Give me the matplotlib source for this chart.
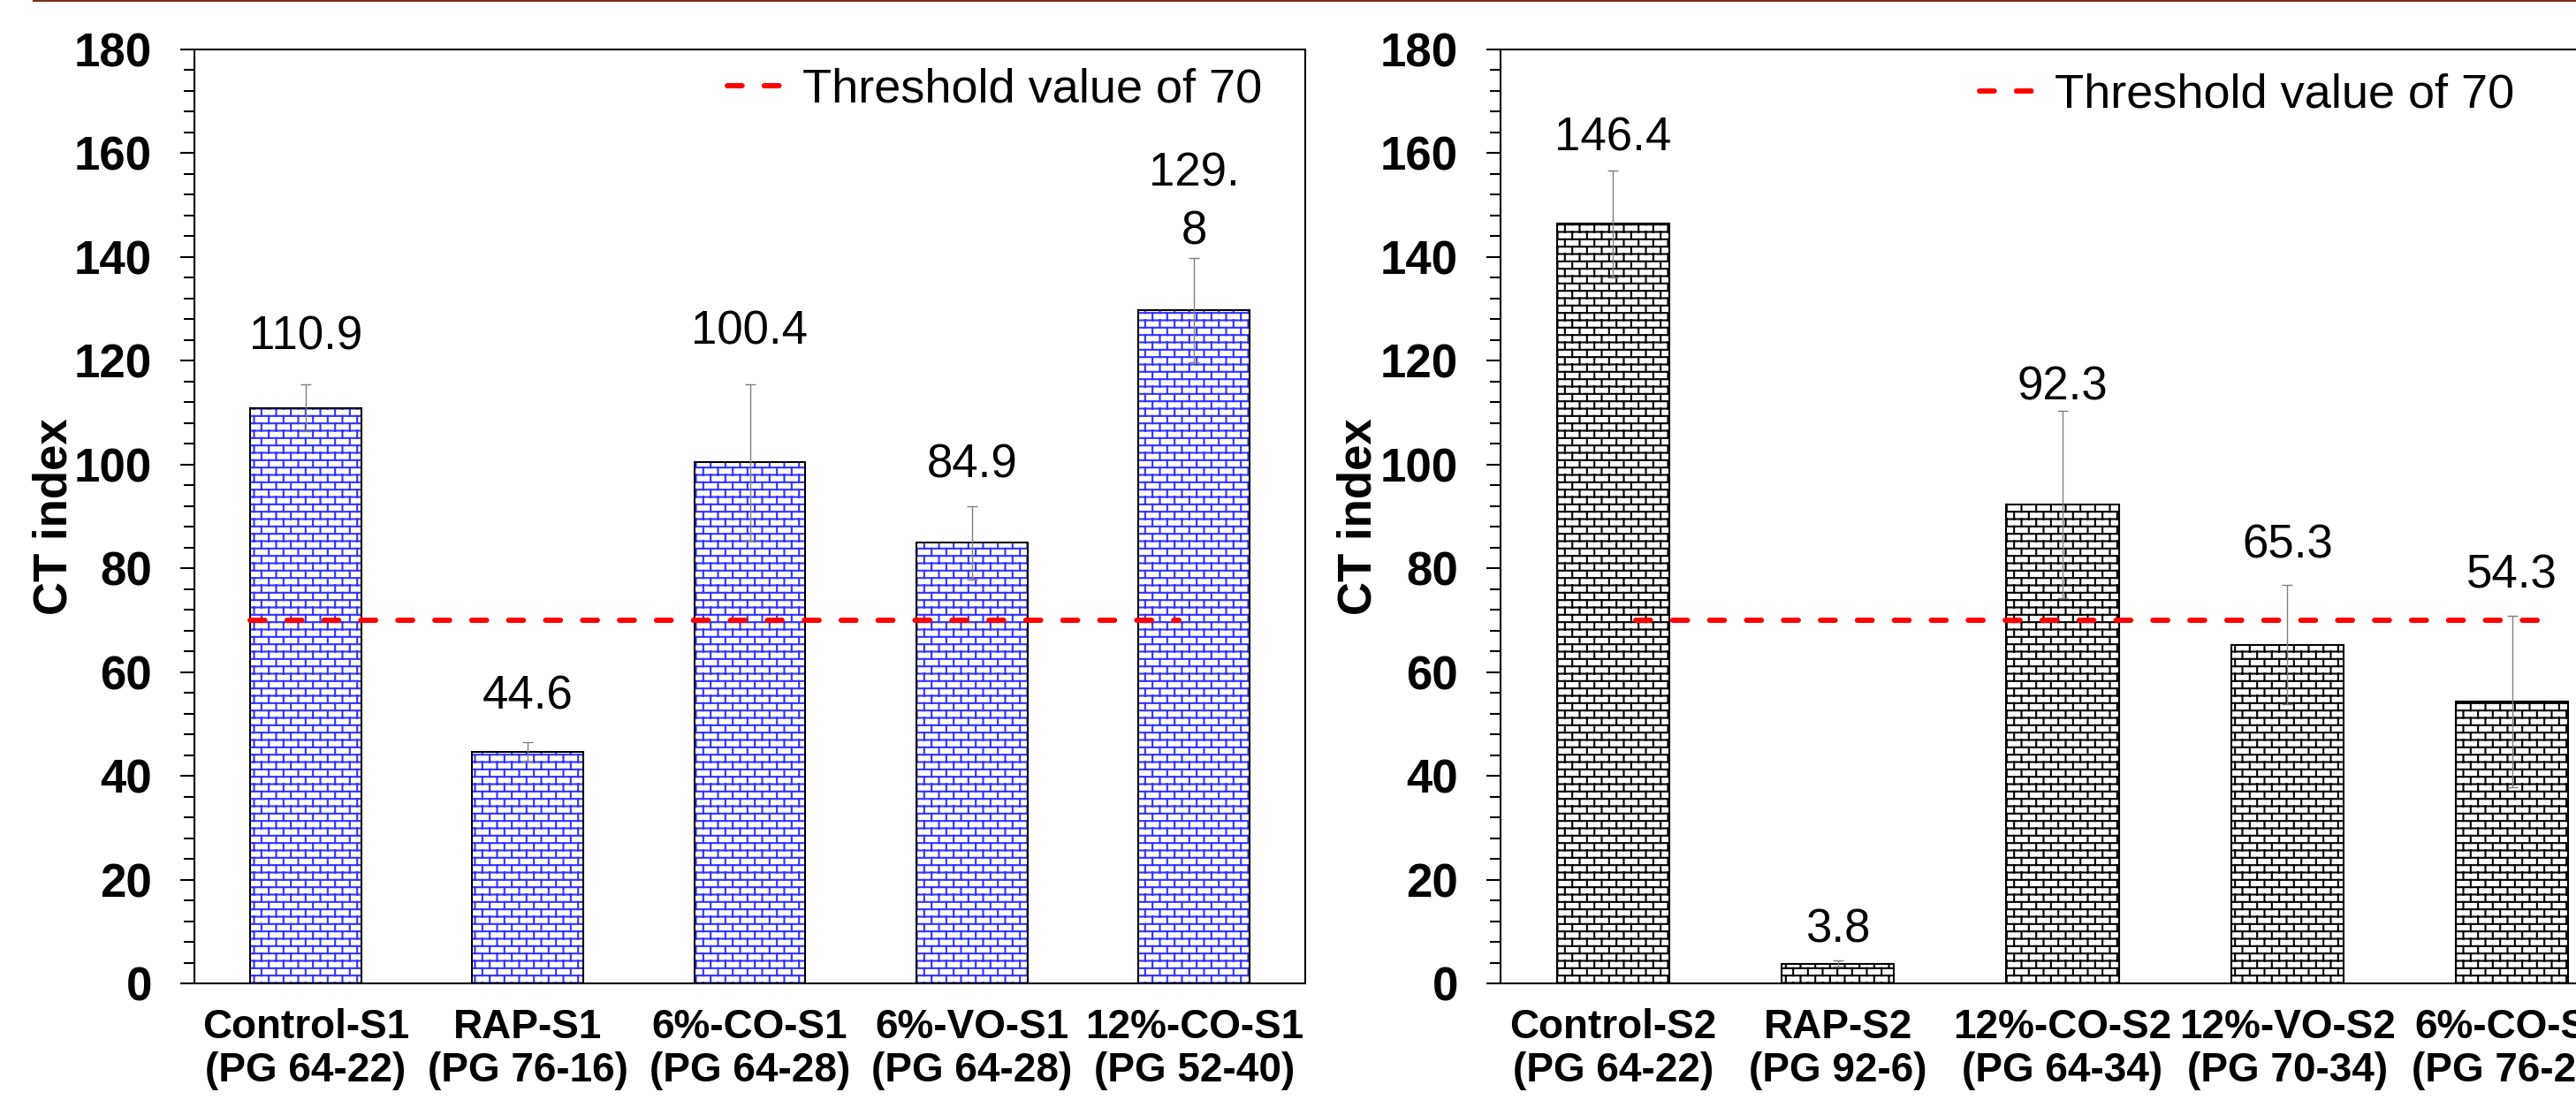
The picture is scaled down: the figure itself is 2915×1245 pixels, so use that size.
import warnings
import matplotlib
matplotlib.use("Agg")
import matplotlib.pyplot as plt
import matplotlib.hatch as mhatch
from matplotlib.path import Path
from matplotlib.lines import Line2D
from matplotlib.ticker import MultipleLocator

warnings.filterwarnings("ignore")

# data
cats1 = ["Control-S1\n(PG 64-22)", "RAP-S1\n(PG 76-16)", "6%-CO-S1\n(PG 64-28)",
         "6%-VO-S1\n(PG 64-28)", "12%-CO-S1\n(PG 52-40)"]
ct1 = [110.9, 44.6, 100.4, 84.9, 129.8]
err1 = [4.5, 1.9, 15.0, 7.0, 10.0]
labels1 = ["110.9", "44.6", "100.4", "84.9", "129.\n8"]

cats2 = ["Control-S2\n(PG 64-22)", "RAP-S2\n(PG 92-6)", "12%-CO-S2\n(PG 64-34)",
         "12%-VO-S2\n(PG 70-34)", "6%-CO-S2\n(PG 76-22)"]
ct2 = [146.4, 3.8, 92.3, 65.3, 54.3]
err2 = [10.3, 0.6, 18.0, 11.5, 16.5]
labels2 = ["146.4", "3.8", "92.3", "65.3", "54.3"]

threshold = 70

# how far each value label sits above its error bar (points)
lab_off1 = [39, 37, 43, 34, 45]
lab_off2 = [26, 25, 19, 32, 33]


# brick hatch ('b'), registered with matplotlib's hatch types
class BrickHatch(mhatch.HatchPatternBase):
    rows = 12
    cols = 6

    def __init__(self, hatch, density):
        n = hatch.count('b')
        nseg = self.rows + self.rows * self.cols + self.cols
        self.num_vertices = 2 * nseg if n else 0

    def set_vertices_and_codes(self, vertices, codes):
        h = 1.0 / self.rows
        w = 1.0 / self.cols
        segs = []
        for r in range(self.rows):
            y0 = (r + 0.5) * h
            y1 = y0 + h
            segs.append([(0, y0), (1, y0)])
            off = 0.25 if r % 2 == 0 else 0.75
            for c in range(self.cols):
                x = (c + off) * w
                if y1 > 1:
                    segs.append([(x, y0), (x, 1)])
                    segs.append([(x, 0), (x, y1 - 1)])
                else:
                    segs.append([(x, y0), (x, y1)])
        k = 0
        for a, b in segs:
            vertices[k] = a
            vertices[k + 1] = b
            codes[k] = Path.MOVETO
            codes[k + 1] = Path.LINETO
            k += 2


mhatch._hatch_types.append(BrickHatch)

plt.rcParams['font.family'] = ['Liberation Sans', 'DejaVu Sans']
plt.rcParams['hatch.linewidth'] = 1.5

fig = plt.figure(figsize=(29.15, 12.45), dpi=100)
W, H = 2915, 1245
ax1 = fig.add_axes([220 / W, 1 - 1113 / H, 1257 / W, 1057 / H])
ax2 = fig.add_axes([1698 / W, 1 - 1113 / H, 1272 / W, 1057 / H])

# dark red rule at the top of the page
fig.add_artist(Line2D([38 / W, 1], [1 - 1 / H, 1 - 1 / H], color='#7a3020', lw=1.6))

panels = [
    (ax1, cats1, ct1, err1, labels1, lab_off1, '#3333ff', (-0.25, 3.93), (0.961, 0.9565)),
    (ax2, cats2, ct2, err2, labels2, lab_off2, 'black', (0.1, 4.15), (0.9017, 0.951)),
]

for ax, cats, vals, errs, labs, offs, hcol, (t0, t1), leg_xy in panels:
    x = list(range(len(vals)))
    ax.bar(x, vals, width=0.5, color='white', edgecolor=hcol, hatch='b', linewidth=0, zorder=2)
    ax.bar(x, vals, width=0.5, fill=False, edgecolor='black', linewidth=1.5, zorder=3)
    ax.errorbar(x, vals, yerr=errs, fmt='none', ecolor='#7f7f7f', elinewidth=1.0,
                capsize=4, capthick=1.0, zorder=4)
    ax.plot([t0, t1], [threshold, threshold], color='red', lw=4.3,
            ls=(0, (2.8, 4.2)), dash_capstyle='round', zorder=5)

    for xi, v, e, txt, off in zip(x, vals, errs, labs, offs):
        ax.annotate(txt, (xi, v + e), xytext=(0, off), textcoords='offset points',
                    ha='center', va='center', fontsize=38, linespacing=1.4, zorder=6)

    ax.set_xlim(-0.5, 4.5)
    ax.set_ylim(0, 180)
    ax.yaxis.set_major_locator(MultipleLocator(20))
    ax.yaxis.set_minor_locator(MultipleLocator(4))
    ax.set_xticks(x)
    ax.set_xticklabels(cats, fontweight='bold', fontsize=33, linespacing=1.15)
    ax.tick_params(axis='x', length=0, pad=20)
    ax.tick_params(axis='y', which='major', length=11.5, width=1.5, pad=23,
                   labelsize=38)
    ax.tick_params(axis='y', which='minor', length=8.6, width=1.5)
    for lab in ax.get_yticklabels():
        lab.set_fontweight('bold')
    for s in ax.spines.values():
        s.set_linewidth(1.5)
    ax.text(-0.126, 0.5, "CT index", transform=ax.transAxes, rotation=90,
            ha='center', va='center', fontsize=38, fontweight='bold')

    handle = Line2D([], [], color='red', lw=4.3, ls=(0, (2.8, 4.2)), dash_capstyle='round')
    ax.legend([handle], ["Threshold value of 70"], loc='center right',
              bbox_to_anchor=leg_xy, frameon=False, fontsize=39, handlelength=1.45,
              handletextpad=0.12, borderpad=0, borderaxespad=0)

fig.savefig('out.png', dpi=100)
